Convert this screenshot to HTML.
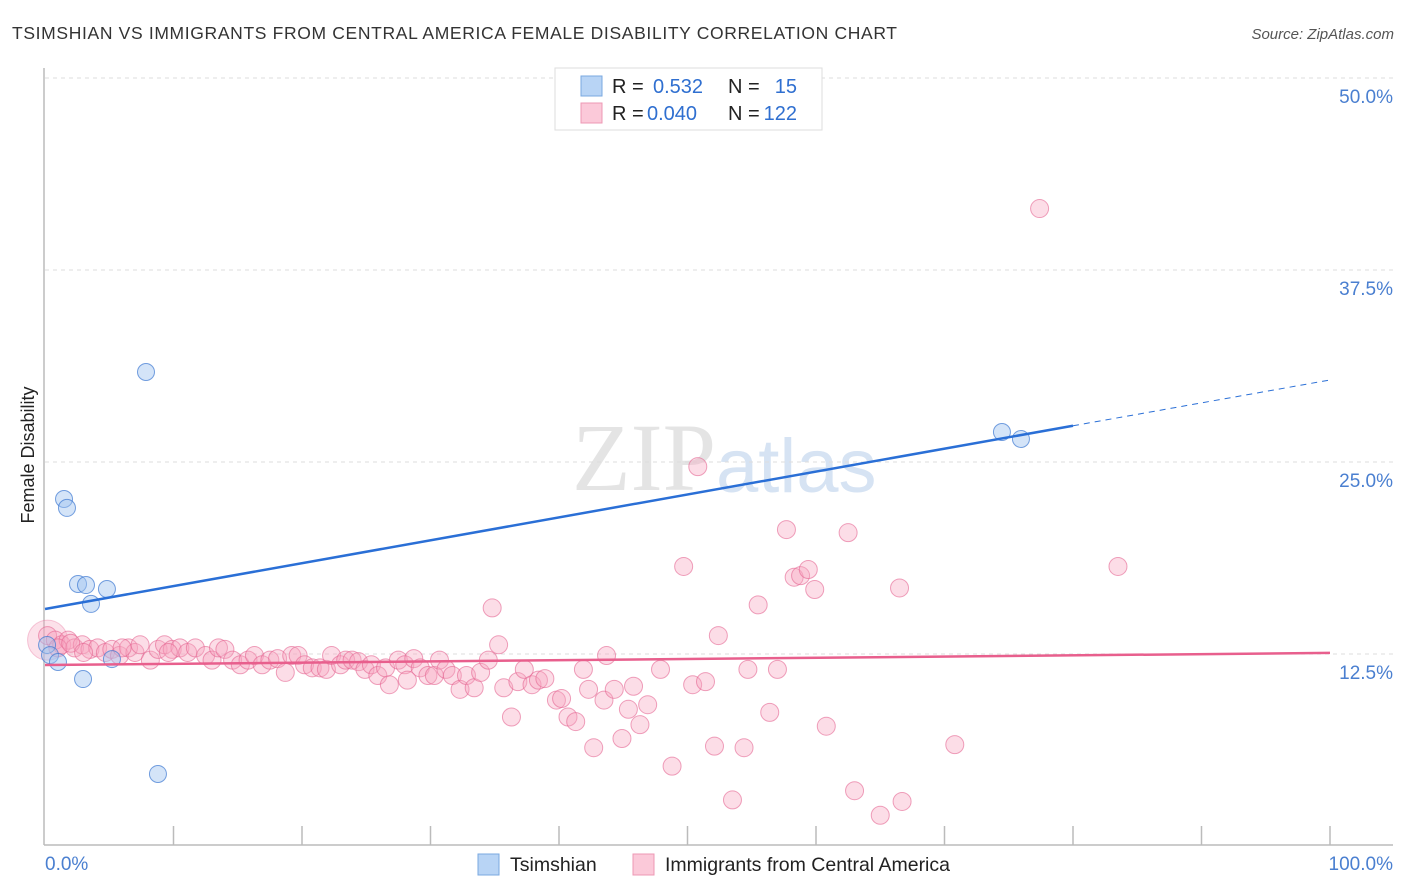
<!DOCTYPE html>
<html><head><meta charset="utf-8"><style>
body{margin:0;background:#fff;font-family:"Liberation Sans",sans-serif;}
svg{display:block}
</style></head><body>
<svg id="chart" width="1406" height="892" viewBox="0 0 1406 892">
<text x="12" y="39" font-size="17.5" fill="#333" textLength="885" lengthAdjust="spacing">TSIMSHIAN VS IMMIGRANTS FROM CENTRAL AMERICA FEMALE DISABILITY CORRELATION CHART</text>
<text x="1394" y="39" font-size="15" fill="#555" font-style="italic" text-anchor="end">Source: ZipAtlas.com</text>
<text x="716" y="490" font-size="96" fill="#e4e4e4" text-anchor="end" font-family="Liberation Serif,serif">ZIP</text>
<text x="716" y="492" font-size="76" fill="#d6e3f3">atlas</text>
<g id="grid"></g>
<line x1="44" y1="68" x2="44" y2="845" stroke="#bbb" stroke-width="1.5"/>
<line x1="44" y1="845" x2="1393" y2="845" stroke="#bbb" stroke-width="1.5"/>
<g id="xticks"></g>
<text x="34" y="455" font-size="18" fill="#222" text-anchor="middle" transform="rotate(-90 34 455)">Female Disability</text>
<text x="45" y="870" font-size="19" fill="#4a7fd0">0.0%</text>
<text x="1393" y="870" font-size="19" fill="#4a7fd0" text-anchor="end">100.0%</text>
<g id="pink"></g><g id="blue"></g><g id="lines"></g>
<g>
<rect x="555" y="68" width="267" height="62" fill="#fff" stroke="#ddd"/>
<rect x="581" y="76" width="21" height="20" fill="#b8d4f5" stroke="#7aa8e0"/>
<rect x="581" y="103" width="21" height="20" fill="#fbc9d9" stroke="#ee98b4"/>
<text x="612" y="93" font-size="20" fill="#222">R = </text><text x="653" y="93" font-size="20" fill="#2f6fd0">0.532</text>
<text x="728" y="93" font-size="20" fill="#222">N = </text><text x="797" y="93" font-size="20" fill="#2f6fd0" text-anchor="end">15</text>
<text x="612" y="120" font-size="20" fill="#222">R = </text><text x="647" y="120" font-size="20" fill="#2f6fd0">0.040</text>
<text x="728" y="120" font-size="20" fill="#222">N = </text><text x="797" y="120" font-size="20" fill="#2f6fd0" text-anchor="end">122</text>
</g>
<g>
<rect x="478" y="854" width="21" height="21" fill="#b8d4f5" stroke="#7aa8e0"/>
<text x="510" y="871" font-size="19.5" fill="#222">Tsimshian</text></g>
<g>
<rect x="633" y="854" width="21" height="21" fill="#fbc9d9" stroke="#ee98b4"/>
<text x="665" y="871" font-size="19.5" fill="#222">Immigrants from Central America</text></g>
</svg>
<script>
const yTicks=[12.5,25,37.5,50];
const yTickLabels=["12.5%","25.0%","37.5%","50.0%"];
const blueX=[0.16,0.39,1.01,1.48,1.71,2.57,3.19,3.58,4.82,5.21,2.96,7.86,8.79,74.47,75.95];
const blueY=[13.09,12.43,11.98,22.59,22.01,17.06,16.99,15.76,16.73,12.17,10.87,30.86,4.69,26.95,26.5];
const pinkX=[0.2,0.8,1.3,1.8,2.3,2.9,3.5,4.1,4.7,5.2,5.8,6.5,7.0,7.4,8.2,8.8,9.3,9.9,10.5,11.1,11.7,12.5,13.0,13.5,14.0,14.6,15.2,15.8,16.3,16.9,17.5,18.1,18.7,19.2,19.7,20.2,20.8,21.4,21.9,22.3,23.0,23.4,23.9,24.4,24.9,25.4,25.9,26.5,26.8,27.5,28.0,28.2,28.7,29.2,29.8,30.3,30.7,31.2,31.7,32.3,32.8,33.4,33.9,34.5,34.8,35.3,35.7,36.3,36.8,37.3,37.9,38.4,38.9,39.8,40.2,40.7,41.3,41.9,42.3,42.7,43.5,43.7,44.3,44.9,45.4,45.8,46.3,46.9,47.9,48.8,49.7,50.4,50.8,51.4,52.1,52.4,53.5,54.4,54.7,55.5,56.4,57.0,57.7,58.3,58.8,59.4,59.9,60.8,62.5,63.0,65.0,66.5,66.7,70.8,77.4,83.5,1.0,2.0,3.0,6.0,9.6];
const pinkY=[13.7,13.4,13.1,13.4,12.9,13.1,12.8,12.9,12.6,12.8,12.4,12.9,12.6,13.1,12.1,12.8,13.1,12.8,12.9,12.6,12.9,12.4,12.1,12.9,12.8,12.1,11.8,12.1,12.4,11.8,12.1,12.2,11.3,12.4,12.4,11.8,11.6,11.6,11.5,12.4,11.8,12.1,12.1,12.0,11.5,11.8,11.1,11.6,10.5,12.1,11.8,10.8,12.2,11.6,11.1,11.1,12.1,11.5,11.1,10.2,11.1,10.3,11.3,12.1,15.5,13.1,10.3,8.4,10.7,11.5,10.5,10.8,10.9,9.5,9.6,8.4,8.1,11.5,10.2,6.4,9.5,12.4,10.2,7.0,8.9,10.4,7.9,9.2,11.5,5.2,18.2,10.5,24.7,10.7,6.5,13.7,3.0,6.4,11.5,15.7,8.7,11.5,20.6,17.5,17.6,18.0,16.7,7.8,20.4,3.6,2.0,16.8,2.9,6.6,41.5,18.2,12.9,13.2,12.6,12.9,12.6];
const blueLine=[15.43,30.34], blueSolidEnd=80;
const pinkLine=[11.78,12.57];
const sx=v=>45+v*12.85, sy=v=>846-v*15.36;
const NS="http://www.w3.org/2000/svg";
function mk(tag,attrs,parent){const e=document.createElementNS(NS,tag);for(const k in attrs)e.setAttribute(k,attrs[k]);document.getElementById(parent).appendChild(e);return e;}
yTicks.forEach((t,i)=>{
 const l=mk('line',{x1:45,x2:1393,y1:sy(t),y2:sy(t),stroke:'#ddd','stroke-dasharray':'4 4'},'grid');
 
 
 const tx=mk('text',{x:1393,y:sy(t)+25,'font-size':19,fill:'#4a7fd0','text-anchor':'end'},'grid');
 tx.textContent=yTickLabels[i];
 
 
});
for(let i=1;i<=10;i++){const l=mk('line',{x1:sx(i*10),x2:sx(i*10),y1:826,y2:845,stroke:'#bbb','stroke-width':1.5},'xticks');
 
 }
const big=mk('circle',{cx:sx(0.2),cy:sy(13.4),r:20,fill:'rgba(246,170,196,0.35)',stroke:'rgba(232,120,160,0.4)'},'pink');


pinkX.forEach((x,i)=>{const c=mk('circle',{cx:sx(x),cy:sy(pinkY[i]),r:9,fill:'rgba(246,165,192,0.38)',stroke:'rgba(228,100,145,0.6)','stroke-width':1},'pink');
 
 });
blueX.forEach((x,i)=>{const c=mk('circle',{cx:sx(x),cy:sy(blueY[i]),r:8.5,fill:'rgba(160,196,240,0.45)',stroke:'rgba(60,120,210,0.7)','stroke-width':1},'blue');
 
 });
const by=x=>blueLine[0]+(blueLine[1]-blueLine[0])*x/100;
let l1=mk('line',{x1:sx(0),y1:sy(by(0)),x2:sx(blueSolidEnd),y2:sy(by(blueSolidEnd)),stroke:'#2a6fd6','stroke-width':2.5},'lines');


let l2=mk('line',{x1:sx(blueSolidEnd),y1:sy(by(blueSolidEnd)),x2:sx(100),y2:sy(by(100)),stroke:'#2a6fd6','stroke-width':1,'stroke-dasharray':'6 5'},'lines');


let l3=mk('line',{x1:sx(0),y1:sy(pinkLine[0]),x2:sx(100),y2:sy(pinkLine[1]),stroke:'#e85f8d','stroke-width':2.5},'lines');


</script>
</body></html>
